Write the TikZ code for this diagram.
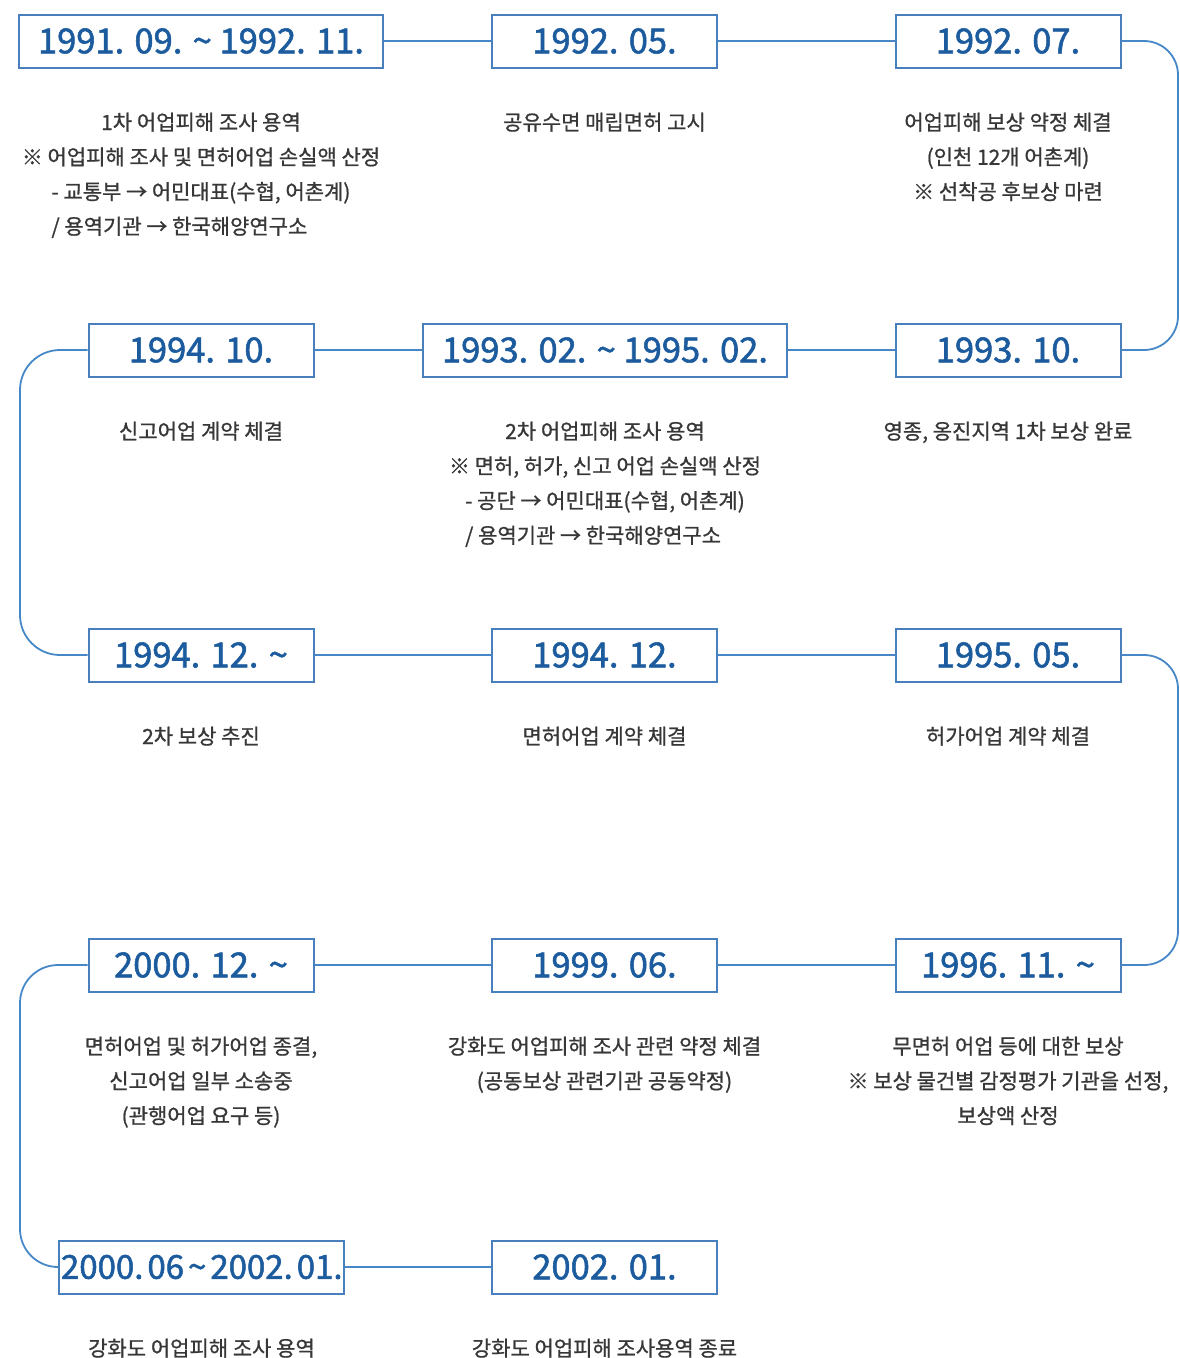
\documentclass[tikz,border=0pt]{standalone}
\usepackage{fontspec}
\newfontfamily\kr{Noto Sans CJK KR}[FakeBold=0.9]
\newfontfamily\krdate{Noto Sans CJK KR}[FakeBold=1.6]
\usetikzlibrary{positioning}
\definecolor{boxline}{RGB}{72,128,190}
\definecolor{datecol}{RGB}{28,92,158}
\definecolor{linkcol}{RGB}{70,135,200}
\definecolor{desccol}{RGB}{55,55,55}
\tikzset{
  datebox/.style={draw=boxline, line width=2pt, fill=white, minimum height=53pt, inner sep=0pt, text=datecol, font=\krdate\fontsize{34.5}{40}\selectfont},
  smallbox/.style={datebox, minimum width=225pt},
  widebox/.style={datebox, minimum width=364pt},
  desc/.style={anchor=north, align=center, inner sep=0pt, text=desccol, font=\kr\fontsize{21}{34.7}\selectfont},
  link/.style={draw=linkcol, line width=1.8pt},
}
\begin{document}
\begin{tikzpicture}[x=1pt, y=-1pt]
\useasboundingbox (0,0) rectangle (1179,1358);
\coordinate (R) at (1178,0);
\coordinate (Lx) at (20,0);
% row 1
\node[widebox] (A) at (201,41) {1991. 09. \textasciitilde{} 1992. 11.};
\node[smallbox] (B) at (604.5,41) {1992. 05.};
\node[smallbox] (C) at (1008,41) {1992. 07.};
% row 2
\node[smallbox] (D) at (201,350) {1994. 10.};
\node[widebox] (E) at (605,350) {1993. 02. \textasciitilde{} 1995. 02.};
\node[smallbox] (F) at (1008,350) {1993. 10.};
% row 3
\node[smallbox] (G) at (201,655) {1994. 12. \textasciitilde};
\node[smallbox] (H) at (604.5,655) {1994. 12.};
\node[smallbox] (I) at (1008,655) {1995. 05.};
% row 4
\node[smallbox] (J) at (201,965) {2000. 12. \textasciitilde};
\node[smallbox] (K) at (604.5,965) {1999. 06.};
\node[smallbox] (L) at (1008,965) {1996. 11. \textasciitilde};
% row 5
\node[datebox, minimum width=285pt, text width=281pt, align=center, font=\krdate\fontsize{33}{40}\selectfont] (M) at (201.5,1267) {2000.\kern4pt 06\kern4pt\textasciitilde\kern4pt 2002.\kern4pt 01.};
\node[smallbox] (N) at (604.5,1267) {2002. 01.};

% descriptions
\node[desc, below=44pt of A] (a) {1차 어업피해 조사 용역\\※ 어업피해 조사 및 면허어업 손실액 산정\\- 교통부 → 어민대표(수협, 어촌계)\\\rlap{/ 용역기관 → 한국해양연구소}\phantom{- 교통부 → 어민대표(수협, 어촌계)}};
\node[desc, below=44pt of B] (b) {공유수면 매립면허 고시};
\node[desc, below=44pt of C] (c) {어업피해 보상 약정 체결\\(인천 12개 어촌계)\\※ 선착공 후보상 마련};
\node[desc, below=44pt of D] (d) {신고어업 계약 체결};
\node[desc, below=44pt of E] (e) {2차 어업피해 조사 용역\\※ 면허, 허가, 신고 어업 손실액 산정\\- 공단 → 어민대표(수협, 어촌계)\\\rlap{/ 용역기관 → 한국해양연구소}\phantom{- 공단 → 어민대표(수협, 어촌계)}};
\node[desc, below=44pt of F] (f) {영종, 옹진지역 1차 보상 완료};
\node[desc, below=44pt of G] (g) {2차 보상 추진};
\node[desc, below=44pt of H] (h) {면허어업 계약 체결};
\node[desc, below=44pt of I] (i) {허가어업 계약 체결};
\node[desc, below=44pt of J] (j) {면허어업 및 허가어업 종결,\\신고어업 일부 소송중\\(관행어업 요구 등)};
\node[desc, below=44pt of K] (k) {강화도 어업피해 조사 관련 약정 체결\\(공동보상 관련기관 공동약정)};
\node[desc, below=44pt of L] (l) {무면허 어업 등에 대한 보상\\※ 보상 물건별 감정평가 기관을 선정,\\보상액 산정};
\node[desc, below=44pt of M] (m) {강화도 어업피해 조사 용역};
\node[desc, below=44pt of N] (n) {강화도 어업피해 조사용역 종료};

% connectors
\draw[link] (A) -- (B);
\draw[link] (B) -- (C);
\draw[link] (D) -- (E);
\draw[link] (E) -- (F);
\draw[link] (G) -- (H);
\draw[link] (H) -- (I);
\draw[link] (J) -- (K);
\draw[link] (K) -- (L);
\draw[link] (M) -- (N);
\draw[link, rounded corners=34pt] (C.east) -- (C.east -| R) -- (F.east -| R) -- (F.east);
\draw[link, rounded corners=34pt] (I.east) -- (I.east -| R) -- (L.east -| R) -- (L.east);
\draw[link, rounded corners=40pt] (D.west) -- (D.west -| Lx) -- (G.west -| Lx) -- (G.west);
\draw[link, rounded corners=38pt] (J.west) -- (J.west -| Lx) -- (M.west -| Lx) -- (M.west);
\end{tikzpicture}
\end{document}
